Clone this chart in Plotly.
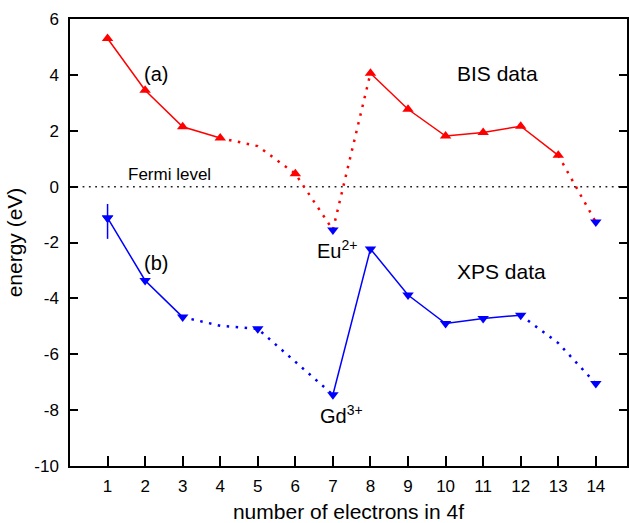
import plotly.graph_objects as go

# ---- data ----
n_electrons = list(range(1, 15))
bis_energy = [5.3, 3.45, 2.14, 1.74, 1.45, 0.46, -1.55, 4.06, 2.77, 1.81, 1.94, 2.16, 1.12, -1.27]
bis_marked = [1, 2, 3, 4, 6, 8, 9, 10, 11, 12, 13]
bis_blue_marked = [7, 14]
bis_solid_runs = [[1, 2, 3, 4], [8, 9, 10, 11, 12, 13]]
bis_dotted_runs = [[4, 5, 6, 7, 8], [13, 14]]

xps_energy = [-1.12, -3.36, -4.67, -4.98, -5.09, None, -7.45, -2.23, -3.88, -4.9, -4.72, -4.6, -5.6, -7.05]
xps_marked = [1, 2, 3, 5, 7, 8, 9, 10, 11, 12, 14]
xps_solid_runs = [[1, 2, 3], [7, 8, 9, 10, 11, 12]]
xps_dotted_runs = [[3, 4, 5, 7], [12, 13, 14]]
xps_err_plus = 0.5
xps_err_minus = 0.75

x_ticks = list(range(1, 15))
y_ticks = list(range(-10, 7, 2))

RED = "rgb(255,0,0)"
BLUE = "rgb(0,0,255)"
FONT = "Liberation Sans, Arial, sans-serif"


def val(series, n):
    return series[n - 1]


fig = go.Figure()

# Fermi level
fig.add_trace(go.Scatter(x=[0, 15], y=[0, 0], mode="lines",
                         line=dict(color="#222", width=1.5, dash="1.8px,4.5px"),
                         showlegend=False, hoverinfo="skip"))


def add_runs(series, runs, color, dash, width):
    for run in runs:
        fig.add_trace(go.Scatter(x=run, y=[val(series, n) for n in run], mode="lines",
                                 line=dict(color=color, width=width, dash=dash),
                                 showlegend=False, hoverinfo="skip"))


add_runs(bis_energy, bis_solid_runs, RED, "solid", 1.5)
add_runs(bis_energy, bis_dotted_runs, RED, "2.5px,6.5px", 2.5)
add_runs(xps_energy, xps_solid_runs, BLUE, "solid", 1.5)
add_runs(xps_energy, xps_dotted_runs, BLUE, "2.5px,6.5px", 2.5)

# markers
fig.add_trace(go.Scatter(x=bis_marked, y=[val(bis_energy, n) for n in bis_marked], mode="markers",
                         marker=dict(symbol="triangle-up", size=10, color=RED),
                         showlegend=False))
fig.add_trace(go.Scatter(x=bis_blue_marked, y=[val(bis_energy, n) for n in bis_blue_marked], mode="markers",
                         marker=dict(symbol="triangle-down", size=10, color=BLUE),
                         showlegend=False))
fig.add_trace(go.Scatter(x=xps_marked, y=[val(xps_energy, n) for n in xps_marked], mode="markers",
                         marker=dict(symbol="triangle-down", size=10, color=BLUE),
                         showlegend=False))
# error bar on first XPS point
fig.add_trace(go.Scatter(x=[1], y=[val(xps_energy, 1)], mode="markers",
                         marker=dict(symbol="triangle-down", size=10, color=BLUE),
                         error_y=dict(type="data", symmetric=False, array=[xps_err_plus],
                                      arrayminus=[xps_err_minus], color=BLUE, thickness=1.5, width=0),
                         showlegend=False))

ann = [
    dict(x=2.28, y=4.02, text="(a)", size=20),
    dict(x=2.28, y=-2.73, text="(b)", size=20),
    dict(x=11.38, y=4.06, text="BIS data", size=21),
    dict(x=11.49, y=-3.05, text="XPS data", size=21),
    dict(x=2.65, y=0.42, text="Fermi level", size=17),
    dict(x=7.11, y=-2.25, text="Eu<sup>2+</sup>", size=20),
    dict(x=7.22, y=-8.15, text="Gd<sup>3+</sup>", size=20),
]
for a in ann:
    fig.add_annotation(x=a["x"], y=a["y"], text=a["text"], showarrow=False,
                       font=dict(family=FONT, size=a["size"], color="black"),
                       xanchor="center", yanchor="middle")

fig.update_layout(
    width=629, height=523,
    margin=dict(l=70, r=0, t=19, b=56),
    paper_bgcolor="white", plot_bgcolor="white",
    font=dict(family=FONT, color="black"),
    xaxis=dict(range=[0, 14.83], tickvals=x_ticks, ticktext=[str(v) for v in x_ticks],
               ticks="inside", ticklen=10, tickwidth=1.5, tickcolor="black",
               showline=True, linecolor="black", linewidth=1.5, mirror=True,
               showgrid=False, zeroline=False,
               tickfont=dict(size=17), ticklabelstandoff=4,
               title=dict(text="number of electrons in 4f", font=dict(size=21), standoff=12)),
    yaxis=dict(range=[-10, 6], tickvals=y_ticks, ticktext=[str(v) for v in y_ticks],
               ticks="inside", ticklen=8, tickwidth=1.5, tickcolor="black",
               showline=True, linecolor="black", linewidth=1.5, mirror="ticks",
               showgrid=False, zeroline=False,
               tickfont=dict(size=17), ticklabelstandoff=6,
               title=dict(text="energy (eV)", font=dict(size=21), standoff=6)),
)

fig.write_html("out.html")
